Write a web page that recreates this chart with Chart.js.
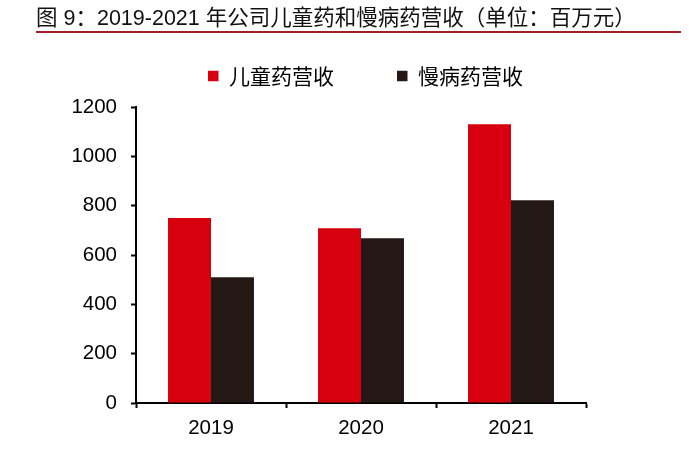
<!DOCTYPE html>
<html>
<head>
<meta charset="utf-8">
<script src="https://cdn.jsdelivr.net/npm/chart.js@4.4.1/dist/chart.umd.min.js"></script>
<style>
  html, body { margin: 0; padding: 0; background: #fff; }
  #wrap { position: relative; width: 689px; height: 469px; overflow: hidden; }
  #title {
    position: absolute; left: 36px; top: 6px; width: 645px; height: 24px;
    line-height: 24px; font-size: 21.5px; color: #111;
    font-family: "Liberation Sans", "Noto Sans CJK SC", sans-serif;
    border-bottom: 2px solid #a31d22; padding-bottom: 1px; white-space: nowrap;
    z-index: 2;
  }
  canvas { position: absolute; left: 0; top: 0; }
</style>
</head>
<body>
<div id="wrap">
  <div id="title">图 9：2019-2021 年公司儿童药和慢病药营收（单位：百万元）</div>
  <canvas id="c" width="689" height="469"></canvas>
</div>
<script>
// ---- data ----
const categories = ["2019", "2020", "2021"];
const seriesNames = ["儿童药营收", "慢病药营收"];
const childDrugRevenue = [750, 708, 1130];
const chronicDrugRevenue = [510, 668, 822];
const yTicks = [0, 200, 400, 600, 800, 1000, 1200];

const colors = ["#d7000f", "#231815"];

Chart.defaults.font.family = "'Liberation Sans', Arial, sans-serif";
Chart.defaults.color = "#000";

const LEGEND_HEIGHT = 104.5;

const layoutTweaks = {
  id: "layoutTweaks",
  afterInit(chart) {
    const lg = chart.legend;
    if (lg && !lg._patched) {
      const orig = lg.fit;
      lg.fit = function () {
        orig.call(this);
        this.height = LEGEND_HEIGHT;
      };
      lg._patched = true;
    }
  }
};

new Chart(document.getElementById("c"), {
  type: "bar",
  data: {
    labels: categories,
    datasets: [
      { label: seriesNames[0], data: childDrugRevenue, backgroundColor: colors[0], borderWidth: 0 },
      { label: seriesNames[1], data: chronicDrugRevenue, backgroundColor: colors[1], borderWidth: 0 }
    ]
  },
  plugins: [layoutTweaks],
  options: {
    responsive: false,
    animation: false,
    devicePixelRatio: 1,
    layout: { padding: { top: 2.5, left: 0, right: 103, bottom: 0 } },
    datasets: { bar: { categoryPercentage: 0.573, barPercentage: 1.0 } },
    plugins: {
      title: { display: false },
      tooltip: { enabled: false },
      legend: {
        position: "top",
        align: "end",
        labels: {
          boxWidth: 10.5,
          boxHeight: 10.5,
          padding: 63,
          color: "#000",
          font: { size: 21, family: "'Noto Sans CJK SC', sans-serif" }
        }
      }
    },
    scales: {
      x: {
        afterFit(scale) { scale.height = 66; },
        grid: { display: true, drawOnChartArea: false, drawTicks: true, tickLength: 5, tickWidth: 2, tickColor: "#000", color: "#000", offset: true },
        border: { display: true, color: "#000", width: 2 },
        ticks: { color: "#000", font: { size: 20.5 }, padding: 8 }
      },
      y: {
        min: 0,
        max: 1200,
        afterFit(scale) { scale.width = 136; },
        afterBuildTicks(scale) { scale.ticks = yTicks.map(v => ({ value: v })); },
        grid: { display: true, drawOnChartArea: false, drawTicks: true, tickLength: 5, tickWidth: 2, tickColor: "#000", color: "#000" },
        border: { display: true, color: "#000", width: 2 },
        ticks: { color: "#000", font: { size: 20.5 }, padding: 14, callback: v => String(v) }
      }
    }
  }
});
</script>
</body>
</html>
